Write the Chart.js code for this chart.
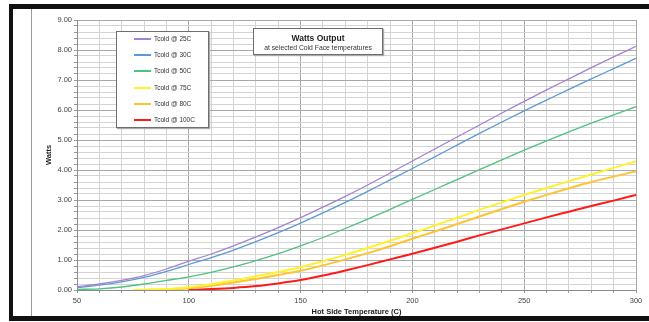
<!DOCTYPE html>
<html>
<head>
<meta charset="utf-8">
<script src="https://cdn.jsdelivr.net/npm/chart.js@4"></script>
<style>
  body { margin: 0; background: #fff; }
  #wrap { position: relative; width: 649px; height: 322px; }
  #legend {
    position: absolute; left: 116px; top: 31px; width: 91px; height: 95px;
    border: 1px solid #6e6e6e; background: #fff; box-shadow: 1px 1px 1px #aaa;
    font-family: "Liberation Sans", Arial, sans-serif; font-size: 6.5px; color: #333;
  }
  #legend .row { position: absolute; left: 0; height: 10px; line-height: 10px; white-space: nowrap; }
  #legend .swatch { position: absolute; left: 17px; top: 4px; width: 17px; height: 2px; }
  #legend .txt { position: absolute; left: 37px; top: 0; }
  #titlebox {
    position: absolute; left: 253px; top: 28px; width: 128px; height: 25px;
    border: 1px solid #6e6e6e; background: #fff; box-shadow: 1px 1px 1px #aaa;
    font-family: "Liberation Sans", Arial, sans-serif; text-align: center; color: #222;
  }
  #titlebox .t1 { font-weight: bold; font-size: 8.5px; margin-top: 4px; line-height: 10px; }
  #titlebox .t2 { font-size: 6.8px; line-height: 9px; color: #333; }
</style>
</head>
<body>
<div id="wrap">
  <canvas id="chart" width="649" height="322"></canvas>
  <div id="titlebox"><div class="t1">Watts Output</div><div class="t2">at selected Cold Face temperatures</div></div>
  <div id="legend"></div>
</div>
<script>
// hot side temperature (C)
var temps = [50, 60, 70, 75, 80, 90, 100, 110, 120, 130, 140, 150, 160, 170, 180, 190, 200,
             210, 220, 230, 240, 250, 260, 270, 280, 290, 300];

// watts per cold face temperature
var tcold25 = [0.11, 0.20, 0.32, null, 0.48, 0.70, 0.96, 1.20, 1.47, 1.77, 2.08, 2.41, 2.76, 3.12, 3.50, 3.90, 4.30,
               4.70, 5.10, 5.50, 5.90, 6.29, 6.67, 7.04, 7.41, 7.77, 8.12];
var tcold30 = [0.08, 0.16, 0.27, null, 0.42, 0.62, 0.85, 1.08, 1.33, 1.61, 1.91, 2.23, 2.57, 2.92, 3.29, 3.67, 4.05,
               4.44, 4.83, 5.22, 5.60, 5.97, 6.33, 6.69, 7.04, 7.38, 7.72];
var tcold50 = [0.02, 0.04, 0.10, null, 0.20, 0.32, 0.44, 0.59, 0.77, 0.98, 1.21, 1.47, 1.75, 2.05, 2.36, 2.69, 3.02,
               3.35, 3.68, 4.01, 4.34, 4.66, 4.97, 5.27, 5.56, 5.84, 6.11];
var tcold75 = [null, null, null, 0.00, 0.01, 0.03, 0.09, 0.19, 0.32, 0.46, 0.60, 0.76, 0.96, 1.17, 1.40, 1.64, 1.89,
               2.15, 2.41, 2.67, 2.92, 3.17, 3.40, 3.63, 3.85, 4.07, 4.29];
var tcold80 = [null, null, null, null, 0.00, 0.02, 0.06, 0.14, 0.25, 0.37, 0.50, 0.64, 0.82, 1.02, 1.23, 1.46, 1.71,
               1.95, 2.20, 2.45, 2.70, 2.94, 3.17, 3.39, 3.60, 3.78, 3.96];
var tcold100 = [null, null, null, null, null, null, 0.00, 0.03, 0.07, 0.13, 0.22, 0.33, 0.48, 0.65, 0.83, 1.02, 1.21,
                1.41, 1.61, 1.82, 2.02, 2.22, 2.42, 2.61, 2.80, 2.98, 3.17];

var seriesLabels = ['Tcold @ 25C', 'Tcold @ 30C', 'Tcold @ 50C', 'Tcold @ 75C', 'Tcold @ 80C', 'Tcold @ 100C'];
var seriesValues = [tcold25, tcold30, tcold50, tcold75, tcold80, tcold100];
var seriesColors = ['#a283d2', '#5b9bd5', '#4fc27c', '#fff22a', '#ffc233', '#ff1a1a'];
var seriesWidths = [1.3, 1.3, 1.3, 2, 2, 2];

function isWhole(v, step) {
  var r = v / step;
  return Math.abs(r - Math.round(r)) < 1e-6;
}

var datasets = seriesValues.map(function (vals, i) {
  return {
    label: seriesLabels[i],
    data: temps.map(function (t, j) { return { x: t, y: vals[j] }; }),
    borderColor: seriesColors[i],
    backgroundColor: seriesColors[i],
    borderWidth: seriesWidths[i],
    pointRadius: 0,
    spanGaps: true,
    cubicInterpolationMode: 'monotone',
    fill: false
  };
});

// outer frame like the pasted spreadsheet picture
var frame = {
  id: 'frame',
  beforeDraw: function (chart) {
    var ctx = chart.ctx;
    ctx.save();
    ctx.fillStyle = '#fff';
    ctx.fillRect(0, 0, chart.width, chart.height);
    ctx.fillStyle = '#111';
    ctx.fillRect(10, 4, 639, 5);
    ctx.fillRect(9, 4, 4, 317);
    ctx.fillRect(10, 316, 639, 5);
    ctx.fillStyle = '#9a9a9a';
    ctx.fillRect(31, 9, 1, 307);
    ctx.restore();
  }
};

var font = "'Liberation Sans', Arial, sans-serif";

new Chart(document.getElementById('chart'), {
  type: 'line',
  data: { datasets: datasets },
  plugins: [frame],
  options: {
    responsive: false,
    animation: false,
    layout: { padding: { left: 35, top: 20, right: 13, bottom: 5 } },
    plugins: { legend: { display: false }, tooltip: { enabled: false } },
    scales: {
      x: {
        type: 'linear',
        min: 50,
        max: 300,
        afterFit: function (s) { s.height = 27; },
        ticks: {
          stepSize: 10,
          autoSkip: false,
          maxRotation: 0,
          padding: 3,
          color: '#444',
          font: { family: font, size: 7.5 },
          callback: function (v) { return isWhole(v, 50) ? String(v) : ''; }
        },
        grid: {
          color: function (c) { return isWhole(c.tick.value, 50) ? '#a8a8a8' : '#d4d4d4'; },
          tickLength: 3,
          tickColor: '#999'
        },
        border: { color: '#8c8c8c' },
        title: {
          display: true,
          text: 'Hot Side Temperature (C)',
          color: '#222',
          font: { family: font, size: 7.5, weight: 'bold' },
          padding: { top: 0, bottom: 1 }
        }
      },
      y: {
        min: 0,
        max: 9,
        afterFit: function (s) { s.width = 42; },
        ticks: {
          stepSize: 0.2,
          autoSkip: false,
          padding: 2,
          color: '#444',
          font: { family: font, size: 7.5 },
          callback: function (v) { return isWhole(v, 1) ? v.toFixed(2) : ''; }
        },
        grid: {
          color: function (c) { return isWhole(c.tick.value, 1) ? '#a8a8a8' : '#d4d4d4'; },
          tickLength: 3,
          tickColor: '#999'
        },
        border: { color: '#8c8c8c' },
        title: {
          display: true,
          text: 'Watts',
          color: '#222',
          font: { family: font, size: 7.5, weight: 'bold' },
          padding: { top: 9, bottom: 0 }
        }
      }
    }
  }
});

// html legend built from the datasets
var legend = document.getElementById('legend');
datasets.forEach(function (ds, i) {
  var row = document.createElement('div');
  row.className = 'row';
  row.style.top = (2 + i * 16.2) + 'px';
  row.innerHTML = '<span class="swatch" style="background:' + ds.borderColor + '"></span>' +
                  '<span class="txt">' + ds.label + '</span>';
  legend.appendChild(row);
});
</script>
</body>
</html>
